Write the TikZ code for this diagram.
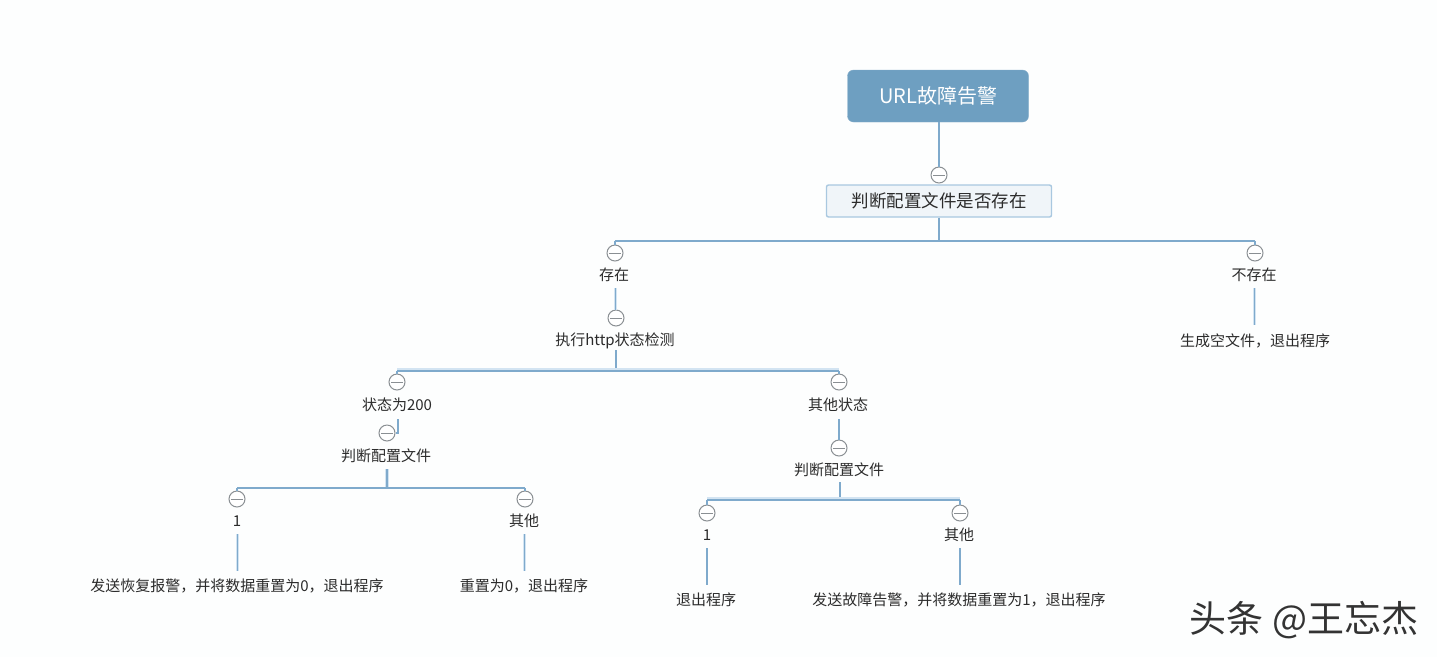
\documentclass[tikz,border=0pt]{standalone}
\usepackage{fontspec}
\setmainfont{Noto Sans CJK SC}
\begin{document}
\begin{tikzpicture}[x=1pt,y=-1pt,
  conn/.style={draw=linkblue,line width=1.2pt},
  halo/.style={draw=linkpale,line width=3.2pt},
  toggle/.style={circle,draw=togglegrey,line width=1pt,fill=white,minimum size=16pt,inner sep=0pt,
    path picture={\draw[togglegrey,line width=1pt] ([xshift=-6pt]path picture bounding box.center)--([xshift=6pt]path picture bounding box.center);}},
  lab/.style={inner sep=1pt,text=textdark,font=\fontsize{15}{17}\selectfont}]
\definecolor{linkblue}{HTML}{7FAACC}
\definecolor{linkpale}{HTML}{D3E4F2}
\definecolor{togglegrey}{HTML}{8A8F93}
\definecolor{textdark}{HTML}{2B2B2B}
\definecolor{titleblue}{HTML}{6E9FC1}
\definecolor{boxfill}{HTML}{F0F5F9}
\definecolor{boxedge}{HTML}{A9C8E0}
\definecolor{paper}{HTML}{FDFEFE}
\useasboundingbox[fill=paper] (0,0) rectangle (1437,657);
% nodes
\node[rounded corners=6pt,fill=titleblue,draw=titleblue!85!white,minimum width=181pt,minimum height=52pt,inner sep=0pt,text=white,font=\fontsize{20}{22}\selectfont] (root) at (938,96) {URL故障告警};
\node[rounded corners=2pt,fill=boxfill,draw=boxedge,line width=1.4pt,minimum width=225pt,minimum height=32pt,inner sep=0pt,text=textdark,font=\fontsize{17.5}{20}\selectfont] (cfg) at (939,201) {判断配置文件是否存在};
\node[toggle] (t0) at (939,175) {};
\coordinate (j1) at (939,241);
\coordinate (j1l) at (615,241);
\coordinate (j1r) at (1255,241);
\node[toggle] (t1) at (615,253) {};
\node[lab] (exist) at (614,275) {存在};
\node[toggle] (t2) at (1255,253) {};
\node[lab] (noexist) at (1254,275) {不存在};
\node[toggle] (t3) at (616,318) {};
\node[lab] (http) at (615,340.5) {执行http状态检测};
\node[lab] (gen) at (1255,340.5) {生成空文件，退出程序};
\coordinate (j2) at (616,371);
\coordinate (j2l) at (397,371);
\coordinate (j2r) at (839,371);
\node[toggle] (t4) at (397,382) {};
\node[lab] (s200) at (397,405) {状态为200};
\node[toggle] (t5) at (839,382) {};
\node[lab] (other) at (838,405) {其他状态};
\node[toggle] (t6) at (387,433) {};
\node[lab] (rd1) at (386,456) {判断配置文件};
\node[toggle] (t7) at (839,448) {};
\node[lab] (rd2) at (839,470) {判断配置文件};
\coordinate (j3) at (387,488);
\coordinate (j3l) at (237,488);
\coordinate (j3r) at (525,488);
\node[toggle] (t8) at (237,499) {};
\node[lab] (one1) at (237,521) {1};
\node[toggle] (t9) at (525,499) {};
\node[lab] (qt1) at (524,521) {其他};
\coordinate (j4) at (840,500);
\coordinate (j4l) at (707,500);
\coordinate (j4r) at (960,500);
\node[toggle] (t10) at (707,513) {};
\node[lab] (one2) at (707,535) {1};
\node[toggle] (t11) at (960,513) {};
\node[lab] (qt2) at (959,535) {其他};
\node[lab] (a1) at (237,586) {发送恢复报警，并将数据重置为0，退出程序};
\node[lab] (a2) at (524,586) {重置为0，退出程序};
\node[lab] (a3) at (706,600) {退出程序};
\node[lab] (a4) at (959,600) {发送故障告警，并将数据重置为1，退出程序};
\node[text=black!80,font=\fontsize{37}{40}\selectfont,inner sep=0pt] (mark) at (1304,620) {头条 @王忘杰};
% free ends of the short stubs
\coordinate (e1) at (615.5,288);
\coordinate (e2) at (1254.5,288);
\coordinate (e3) at (1254.5,325);
\coordinate (e4) at (398,419);
\coordinate (e5) at (387,469);
\coordinate (e6) at (237.5,534);
\coordinate (e7) at (237.5,571);
\coordinate (e8) at (524.5,534);
\coordinate (e9) at (524.5,571);
\coordinate (e10) at (707,548);
\coordinate (e11) at (707,585);
\coordinate (e12) at (960,548);
\coordinate (e13) at (960,585);
\coordinate (e14) at (616,350);
\coordinate (e15) at (839,419);
\coordinate (e16) at (840,482);
% connectors
\draw[conn] (t0.north) -- (t0 |- root.south);
\draw[conn] (cfg.south -| j1) -- (j1);
\draw[conn] (j1l) -- (j1r);
\draw[conn] (j1l) -- (t1.north);
\draw[conn] (j1r) -- (t2.north);
\draw[halo] (e1) -- (e1 |- t3.north);
\draw[conn] (e1) -- (e1 |- t3.north);
\draw[halo] (e2) -- (e3);
\draw[conn] (e2) -- (e3);
\draw[conn] (e14) -- (j2);
\draw[halo] ([yshift=1pt]j2l) -- ([yshift=1pt]j2r);
\draw[conn] (j2l) -- (j2r);
\draw[conn] (j2l) -- (t4.north);
\draw[conn] (j2r) -- (t5.north);
\draw[conn] (e15) -- (t7.north);
\draw[conn] (e4) |- (t6.east);
\draw[halo] (e5) -- (j3);
\draw[conn] (e5) -- (j3);
\draw[conn] (j3l) -- (j3r);
\draw[conn] (j3l) -- (t8.north);
\draw[conn] (j3r) -- (t9.north);
\draw[conn] (e16) -- (j4);
\draw[halo] ([yshift=1.5pt]j4l) -- ([yshift=1.5pt]j4r);
\draw[conn] (j4l) -- (j4r);
\draw[conn] (j4l) -- (t10.north);
\draw[conn] (j4r) -- (t11.north);
\draw[halo] (e6) -- (e7);
\draw[conn] (e6) -- (e7);
\draw[halo] (e8) -- (e9);
\draw[conn] (e8) -- (e9);
\draw[conn] (e10) -- (e11);
\draw[conn] (e12) -- (e13);
\end{tikzpicture}
\end{document}
